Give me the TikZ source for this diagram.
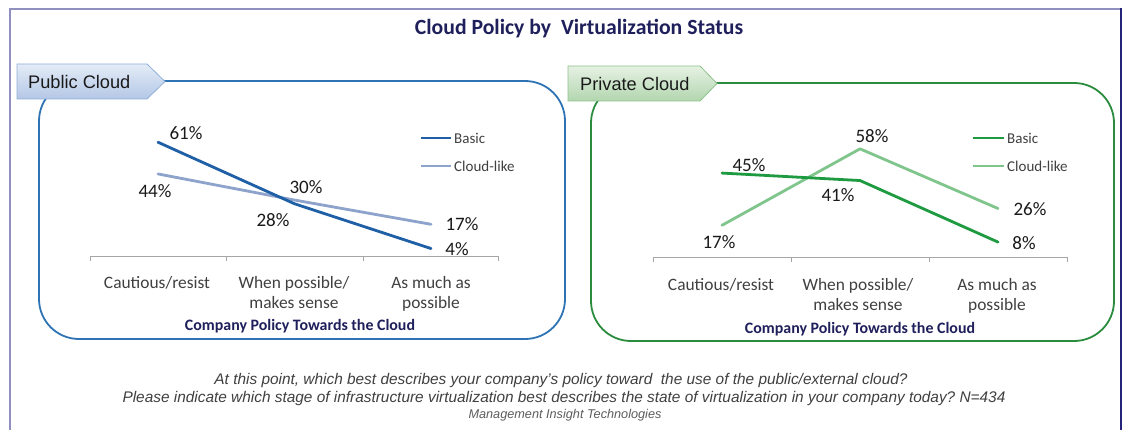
\documentclass[tikz,border=0pt]{standalone}
\usepackage{fontspec}
\setmainfont{Carlito}
\newfontfamily\arialf{Liberation Sans}
\frenchspacing
\definecolor{frameL}{HTML}{9090C0}
\definecolor{frameR}{HTML}{24247A}
\definecolor{titlec}{HTML}{1F1F5C}
\definecolor{pubbox}{HTML}{2E74B5}
\definecolor{pubbasic}{HTML}{1F5FA6}
\definecolor{pubcloud}{HTML}{8EA3CB}
\definecolor{privbox}{HTML}{2A8C3C}
\definecolor{privbasic}{HTML}{1E9A40}
\definecolor{privcloud}{HTML}{80C68C}
\definecolor{axisc}{HTML}{A6A6A6}
\definecolor{labc}{HTML}{404040}
\definecolor{datac}{HTML}{1A1A1A}
\definecolor{pubtabtop}{HTML}{E4ECF7}
\definecolor{pubtabbot}{HTML}{B3C7E6}
\definecolor{pubtabline}{HTML}{8EB0DA}
\definecolor{privtabtop}{HTML}{E6F1E4}
\definecolor{privtabbot}{HTML}{B2D6AE}
\definecolor{privtabline}{HTML}{8DC28B}
\tikzset{
  titlestyle/.style={font=\fontsize{21.7}{26}\selectfont\bfseries, text=titlec, inner sep=0},
  tabtext/.style={font=\arialf\fontsize{18.2}{22}\selectfont, text=datac, anchor=west, inner sep=0},
  datalab/.style={font=\fontsize{19}{22}\selectfont, text=datac, inner sep=0},
  catlab/.style={font=\fontsize{17.4}{20.5}\selectfont, text=labc, align=center, anchor=north, inner sep=0},
  xtitle/.style={font=\fontsize{15.9}{19}\selectfont\bfseries, text=titlec, inner sep=0},
  legtext/.style={font=\fontsize{15}{18}\selectfont, text=labc, anchor=west, inner sep=0},
  foot/.style={font=\arialf\itshape\fontsize{15.4}{18}\selectfont, text=labc, inner sep=0},
  footsmall/.style={font=\arialf\itshape\fontsize{12.7}{15}\selectfont, text=labc!85, inner sep=0},
  axisline/.style={axisc, line width=0.9pt},
  dataline/.style={line width=2.8pt, line cap=round, line join=round},
  panelbox/.style={line width=1.8pt, rounded corners=40pt},
}
\begin{document}
\begin{tikzpicture}[x=1pt,y=-1pt]
\useasboundingbox (0,0) rectangle (1129,430);
\fill[white] (0,0) rectangle (1129,430);
% outer frame
\draw[frameL, line width=1.3pt] (10,430) -- (10,9) -- (1120,9);
\draw[frameR, line width=2pt] (1120.5,8.4) -- (1120.5,430);
% title
\node[titlestyle] (title) at (579,29) {Cloud Policy by\ \ Virtualization Status};

% ================= PUBLIC =================
\draw[pubbox, panelbox] (39,81) rectangle (565,339);
\path[draw=pubtabline, line width=0.8pt, top color=pubtabtop, bottom color=pubtabbot]
  (17,64) -- (147,64) -- (165,81.5) -- (147,99) -- (17,99) -- cycle;
\node[tabtext] (pubtab) at (28,82) {Public Cloud};
% axis
\draw[axisline] (90,256) -- (498,256);
\foreach \t in {90,226,363,498} \draw[axisline] (\t,256) -- (\t,261);
% data
\coordinate (pb1) at (158,{256-1.865*61});
\coordinate (pb2) at (294.5,{256-1.865*28});
\coordinate (pb3) at (431,{256-1.865*4});
\coordinate (pc1) at (158,{256-1.865*44});
\coordinate (pc2) at (294.5,{256-1.865*30});
\coordinate (pc3) at (431,{256-1.865*17});
\draw[pubcloud, dataline] (pc1) -- (pc2) -- (pc3);
\draw[pubbasic, dataline] (pb1) -- (pb2) -- (pb3);
\node[datalab] (l61) at (186,133) {61\%};
\node[datalab] (l44) at (155,191) {44\%};
\node[datalab] (l30) at (306,187) {30\%};
\node[datalab] (l28) at (273,220) {28\%};
\node[datalab] (l17a) at (462,224) {17\%};
\node[datalab] (l4) at (457,249) {4\%};
% legend
\coordinate (plb1) at (421,138); \coordinate (plb2) at (451,138);
\coordinate (plc1) at (421,166); \coordinate (plc2) at (451,166);
\draw[pubbasic, line width=2.6pt] (plb1) -- (plb2);
\draw[pubcloud, line width=2.6pt] (plc1) -- (plc2);
\node[legtext] (plbt) at (454,138) {Basic};
\node[legtext] (plct) at (454,166) {Cloud-like};
% categories
\node[catlab] (pcat1) at (157,276) {Cautious/resist};
\node[catlab] (pcat2) at (294,276) {When possible/\\makes sense};
\node[catlab] (pcat3) at (431,276) {As much as\\possible};
\node[xtitle] (pxt) at (300,326) {Company Policy Towards the Cloud};

% ================= PRIVATE =================
\draw[privbox, panelbox] (591,83) rectangle (1114,341);
\path[draw=privtabline, line width=0.8pt, top color=privtabtop, bottom color=privtabbot]
  (568,66) -- (700,66) -- (717,83.5) -- (700,101) -- (568,101) -- cycle;
\node[tabtext] (privtab) at (580,84) {Private Cloud};
% axis
\draw[axisline] (653,257) -- (1067,257);
\foreach \t in {653,791,929,1067} \draw[axisline] (\t,257) -- (\t,262);
% data
\coordinate (vb1) at (722,{257-1.865*45});
\coordinate (vb2) at (860,{257-1.865*41});
\coordinate (vb3) at (998,{257-1.865*8});
\coordinate (vc1) at (722,{257-1.865*17});
\coordinate (vc2) at (860,{257-1.865*58});
\coordinate (vc3) at (998,{257-1.865*26});
\draw[privcloud, dataline] (vc1) -- (vc2) -- (vc3);
\draw[privbasic, dataline] (vb1) -- (vb2) -- (vb3);
\node[datalab] (m58) at (872,136) {58\%};
\node[datalab] (m45) at (749,165) {45\%};
\node[datalab] (m41) at (838,195) {41\%};
\node[datalab] (m26) at (1030,209) {26\%};
\node[datalab] (m17) at (719,242) {17\%};
\node[datalab] (m8) at (1024,243) {8\%};
% legend
\coordinate (vlb1) at (973,138); \coordinate (vlb2) at (1004,138);
\coordinate (vlc1) at (973,166); \coordinate (vlc2) at (1004,166);
\draw[privbasic, line width=2.6pt] (vlb1) -- (vlb2);
\draw[privcloud, line width=2.6pt] (vlc1) -- (vlc2);
\node[legtext] (vlbt) at (1007,138) {Basic};
\node[legtext] (vlct) at (1007,166) {Cloud-like};
% categories
\node[catlab] (vcat1) at (721,278) {Cautious/resist};
\node[catlab] (vcat2) at (858,278) {When possible/\\makes sense};
\node[catlab] (vcat3) at (997,278) {As much as\\possible};
\node[xtitle] (vxt) at (860,329) {Company Policy Towards the Cloud};

% ================= FOOTER =================
\node[foot] (f1) at (561,381) {At this point, which best describes your company’s policy toward\ \ the use of the public/external cloud?};
\node[foot] (f2) at (564,399) {Please indicate which stage of infrastructure virtualization best describes the state of virtualization in your company today? N=434};
\node[footsmall] (f3) at (565,415) {Management Insight Technologies};
\end{tikzpicture}
\end{document}
